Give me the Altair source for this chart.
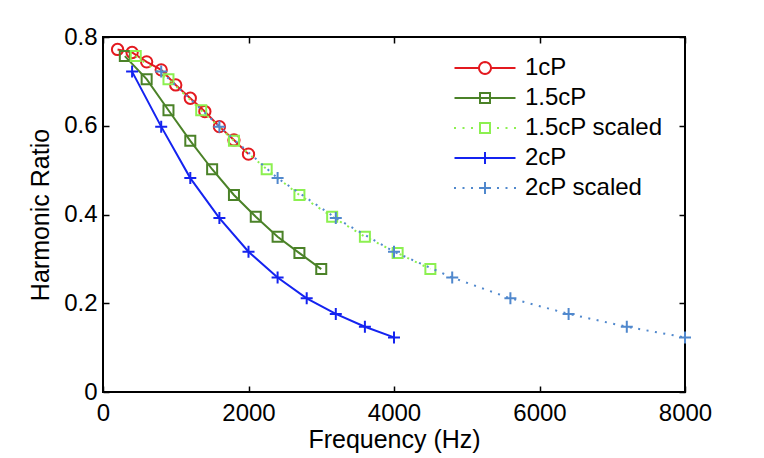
import math
import altair as alt
import pandas as pd

# ---- data ----
series_names = ["1cP", "1.5cP", "1.5cP scaled", "2cP", "2cP scaled"]
colors = ["#e3191f", "#4b8228", "#8cf050", "#1423f0", "#5088cd"]

freq_1cp = [200, 400, 600, 800, 1000, 1200, 1400, 1600, 1800, 2000]
ratio_1cp = [0.772, 0.765, 0.744, 0.726, 0.692, 0.662, 0.632, 0.598, 0.568, 0.536]

freq_15cp = [300, 600, 900, 1200, 1500, 1800, 2100, 2400, 2700, 3000]
ratio_15cp = [0.757, 0.705, 0.635, 0.566, 0.502, 0.444, 0.395, 0.350, 0.313, 0.277]

freq_15cp_scaled = [450, 900, 1350, 1800, 2250, 2700, 3150, 3600, 4050, 4500]
ratio_15cp_scaled = [0.757, 0.705, 0.635, 0.566, 0.502, 0.444, 0.395, 0.350, 0.313, 0.277]

freq_2cp = [400, 800, 1200, 1600, 2000, 2400, 2800, 3200, 3600, 4000]
ratio_2cp = [0.722, 0.598, 0.482, 0.392, 0.316, 0.258, 0.211, 0.176, 0.147, 0.123]

freq_2cp_scaled = [800, 1600, 2400, 3200, 4000, 4800, 5600, 6400, 7200, 8000]
ratio_2cp_scaled = [0.722, 0.598, 0.482, 0.392, 0.316, 0.258, 0.211, 0.176, 0.147, 0.123]

x_ticks = [0, 2000, 4000, 6000, 8000]
y_ticks = [0, 0.2, 0.4, 0.6, 0.8]

all_freq = [freq_1cp, freq_15cp, freq_15cp_scaled, freq_2cp, freq_2cp_scaled]
all_ratio = [ratio_1cp, ratio_15cp, ratio_15cp_scaled, ratio_2cp, ratio_2cp_scaled]

frames = []
for name, fr, rt in zip(series_names, all_freq, all_ratio):
    frames.append(pd.DataFrame({"series": name, "freq": fr, "ratio": rt}))
df = pd.concat(frames, ignore_index=True)

# ---- styles ----
FONT = "Liberation Sans"
dotted = [False, False, True, False, True]
marker_shape = ["circle", "square", "square", "M-1,0L1,0M0,-1L0,1", "M-1,0L1,0M0,-1L0,1"]
marker_size = [128, 100, 100, 144, 144]

xscale = alt.Scale(domain=[0, 8000], nice=False, zero=False)
yscale = alt.Scale(domain=[0, 0.8], nice=False, zero=False)

ax_bottom = alt.Axis(orient="bottom", values=x_ticks, format="d", offset=-6, tickSize=6,
                     domain=False, grid=False, labelPadding=9, labelFlush=False,
                     title="Frequency (Hz)", titlePadding=2)
ax_top = alt.Axis(orient="top", values=x_ticks, offset=-6, tickSize=6, domain=False,
                  grid=False, labels=False, title=None)
ax_left = alt.Axis(orient="left", values=y_ticks, format="~g", offset=-6, tickSize=6,
                   domain=False, grid=False, labelPadding=6, labelFlush=False,
                   title="Harmonic Ratio", titlePadding=10)
ax_right = alt.Axis(orient="right", values=y_ticks, offset=-6, tickSize=6, domain=False,
                    grid=False, labels=False, title=None)

layers = []
for i, name in enumerate(series_names):
    sub = df[df["series"] == name]
    if i == 0:
        xa, ya = ax_bottom, ax_left
    else:
        xa, ya = None, None
    line_kw = dict(color=colors[i], strokeWidth=2)
    if dotted[i]:
        line_kw["strokeDash"] = [2, 6.5]
    line = alt.Chart(sub).mark_line(**line_kw).encode(
        x=alt.X("freq:Q", scale=xscale, axis=xa),
        y=alt.Y("ratio:Q", scale=yscale, axis=ya),
    )
    if i == 0:
        xa2, ya2 = ax_top, ax_right
    else:
        xa2, ya2 = None, None
    pts = alt.Chart(sub).mark_point(shape=marker_shape[i], size=marker_size[i], filled=False,
                                    color=colors[i], strokeWidth=2, opacity=1).encode(
        x=alt.X("freq:Q", scale=xscale, axis=xa2),
        y=alt.Y("ratio:Q", scale=yscale, axis=ya2),
    )
    layers += [line, pts]


# ---- legend symbols: line + marker, one path per entry ----
def circle_poly(r, n=28):
    pts = [(r * math.cos(2 * math.pi * k / n), r * math.sin(2 * math.pi * k / n)) for k in range(n)]
    return "M" + "L".join(f"{x:.3f},{y:.3f}" for x, y in pts) + "Z"


def dots():
    out = ""
    for d in [-3.0, -2.15, -1.3, 1.3, 2.15, 3.0]:
        out += f"M{d - 0.1:.2f},0L{d + 0.1:.2f},0"
    return out


sq = "M-0.5,-0.5L0.5,-0.5L0.5,0.5L-0.5,0.5Z"
plus = "M-0.6,0L0.6,0M0,-0.6L0,0.6"
legend_paths = [
    "M-3.05,0L-0.6,0M0.6,0L3.05,0" + circle_poly(0.6),
    "M-3.05,0L3.05,0" + sq,
    dots() + sq,
    "M-3.05,0L3.05,0" + plus,
    dots() + plus,
]

leg = alt.Legend(orient="none", legendX=370, legendY=19, title=None, labelFont=FONT,
                 labelFontSize=24, labelColor="black", symbolSize=400, symbolStrokeWidth=2,
                 rowPadding=6, labelOffset=28, padding=0, labelLimit=400)

legend_layer = alt.Chart(df).transform_filter("false").mark_point(
    filled=False, strokeWidth=2, opacity=1).encode(
    x=alt.X("freq:Q", scale=xscale, axis=None),
    y=alt.Y("ratio:Q", scale=yscale, axis=None),
    color=alt.Color("series:N", scale=alt.Scale(domain=series_names, range=colors), legend=leg),
    shape=alt.Shape("series:N", scale=alt.Scale(domain=series_names, range=legend_paths), legend=leg),
)
layers.append(legend_layer)

chart = alt.layer(*layers).resolve_axis(x="independent", y="independent").properties(
    width=582, height=355,
    background="white",
    autosize=alt.AutoSizeParams(type="none"),
    padding={"left": 95, "top": 29, "right": 71, "bottom": 64},
).configure_view(stroke="black", strokeWidth=2).configure_axis(
    labelFont=FONT, labelFontSize=24, labelColor="black",
    titleFont=FONT, titleFontSize=25, titleColor="black", titleFontWeight="normal",
    tickColor="black", tickWidth=1.5,
)

chart.save("out.html", embed_options={"renderer": "svg", "actions": False})
